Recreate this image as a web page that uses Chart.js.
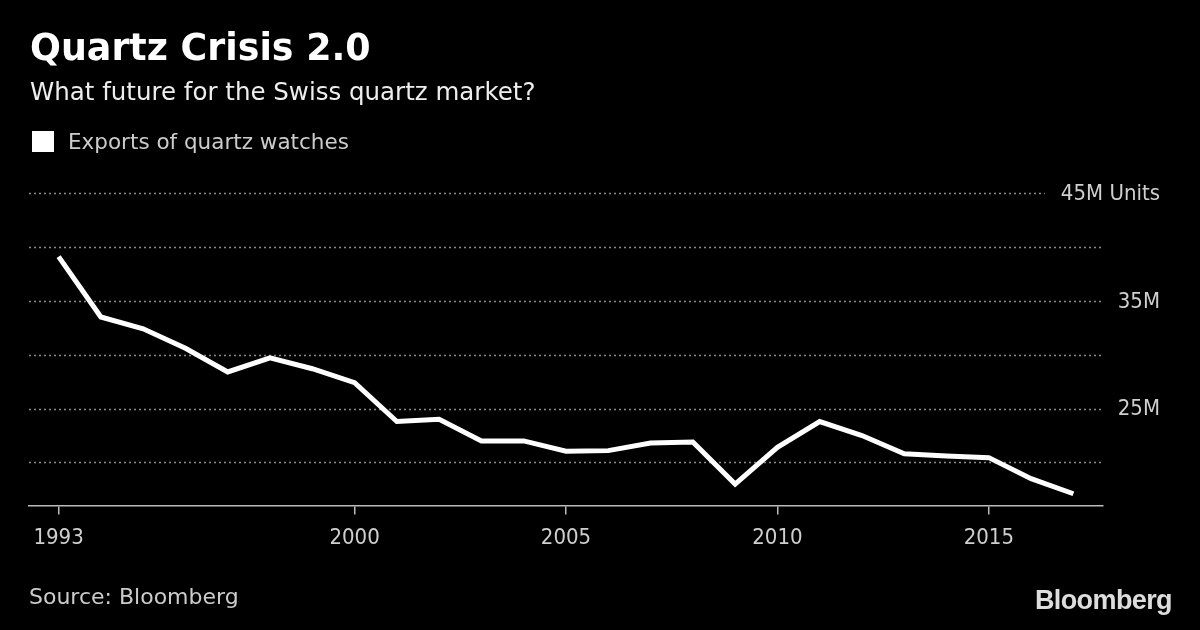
<!DOCTYPE html>
<html>
<head>
<meta charset="utf-8">
<script src="https://cdn.jsdelivr.net/npm/chart.js@4/dist/chart.umd.min.js"></script>
<style>
  html, body { margin: 0; padding: 0; background: #000; }
  body { width: 1200px; height: 630px; position: relative; overflow: hidden; font-family: "DejaVu Sans", sans-serif; }
  #wrap { position: absolute; left: 0; top: 0; width: 1200px; height: 630px; }
  .title { position: absolute; left: 30px; top: 30px; color: #fff; font-weight: bold; font-size: 36.4px; line-height: 1; }
  .subtitle { position: absolute; left: 30px; top: 80px; color: #eee; font-size: 24.5px; line-height: 1; }
  .legend { position: absolute; left: 32px; top: 131px; color: #ccc; font-size: 21.5px; line-height: 1; display: flex; align-items: center; }
  .legend .sw { width: 22px; height: 21px; background: #fff; margin-right: 14px; display: inline-block; }
  .source { position: absolute; left: 29px; top: 586px; color: #ccc; font-size: 22px; line-height: 1; }
  .logo { position: absolute; right: 28px; top: 587px; color: #ddd; font-family: "Liberation Sans", Arial, sans-serif; font-weight: bold; font-size: 27px; letter-spacing: -0.6px; line-height: 1; }
</style>
</head>
<body>
<div id="wrap"><canvas id="c" width="1200" height="630"></canvas></div>
<div class="title">Quartz Crisis 2.0</div>
<div class="subtitle">What future for the Swiss quartz market?</div>
<div class="legend"><span class="sw"></span>Exports of quartz watches</div>
<div class="source">Source: Bloomberg</div>
<div class="logo">Bloomberg</div>
<script>
const years = [1993,1994,1995,1996,1997,1998,1999,2000,2001,2002,2003,2004,2005,2006,2007,2008,2009,2010,2011,2012,2013,2014,2015,2016,2017];
const exportsM = [39.1,33.5,32.4,30.6,28.4,29.7,28.7,27.4,23.8,24.0,22.0,22.0,21.05,21.1,21.8,21.9,18.0,21.4,23.8,22.5,20.8,20.6,20.45,18.5,17.1];
const xTickValues = [1993,2000,2005,2010,2015];
const gridValues = [45,40,35,30,25,20];
const yLabelValues = [45,35,25];
const yLabelTexts = ['45M Units','35M','25M'];

const FONT = '"DejaVu Sans Condensed", "DejaVu Sans", sans-serif';

const gridAndLabels = {
  id: 'gridAndLabels',
  beforeDatasetsDraw(chart) {
    const {ctx, chartArea, scales} = chart;
    const y = scales.y;
    ctx.save();
    ctx.font = '22px ' + FONT;
    const labelRight = 1160;
    gridValues.forEach(v => {
      const py = Math.round(y.getPixelForValue(v)) + 0.5;
      let xEnd = chartArea.right;
      const li = yLabelValues.indexOf(v);
      if (li >= 0) {
        const w = ctx.measureText(yLabelTexts[li]).width;
        const lx = labelRight - w - 16;
        if (lx < xEnd) xEnd = lx;
      }
      ctx.strokeStyle = '#8a8a8a';
      ctx.lineWidth = 1.5;
      ctx.setLineDash([2, 3]);
      ctx.beginPath();
      ctx.moveTo(chartArea.left, py);
      ctx.lineTo(xEnd, py);
      ctx.stroke();
    });
    ctx.setLineDash([]);
    ctx.fillStyle = '#cfcfcf';
    ctx.textAlign = 'right';
    ctx.textBaseline = 'middle';
    yLabelValues.forEach((v, i) => {
      ctx.fillText(yLabelTexts[i], labelRight, y.getPixelForValue(v) + 1);
    });
    ctx.restore();
  }
};

new Chart(document.getElementById('c'), {
  type: 'line',
  data: {
    datasets: [{
      label: 'Exports of quartz watches',
      data: years.map((yr, i) => ({x: yr, y: exportsM[i]})),
      borderColor: '#ffffff',
      borderWidth: 5,
      pointRadius: 0,
      tension: 0,
      fill: false
    }]
  },
  options: {
    responsive: false,
    animation: false,
    layout: { padding: { left: 29, right: 97, top: 193, bottom: 69 } },
    plugins: { legend: { display: false }, tooltip: { enabled: false } },
    scales: {
      x: {
        type: 'linear',
        min: 1992.3,
        max: 2017.7,
        afterBuildTicks(scale) { scale.ticks = xTickValues.map(v => ({value: v})); },
        ticks: {
          color: '#cfcfcf',
          font: { family: FONT, size: 22 },
          padding: 10,
          autoSkip: false,
          maxRotation: 0,
          callback: v => String(v)
        },
        grid: { drawOnChartArea: false, drawTicks: true, tickLength: 9, color: '#bbbbbb', lineWidth: 1.5 },
        border: { display: true, color: '#bbbbbb', width: 1.5 }
      },
      y: {
        display: false,
        min: 16,
        max: 45
      }
    }
  },
  plugins: [gridAndLabels]
});
</script>
</body>
</html>
